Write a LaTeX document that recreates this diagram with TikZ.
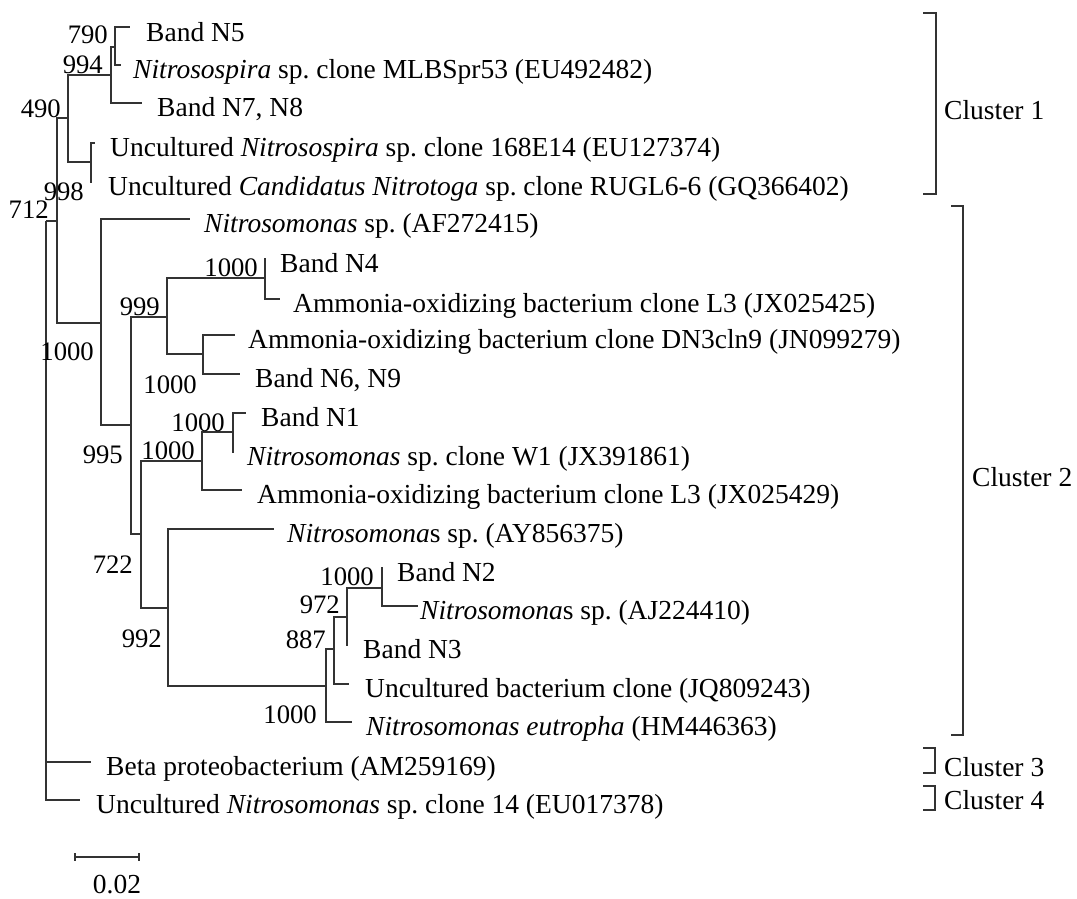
\documentclass[tikz,border=0pt]{standalone}
\usepackage{fontspec}
\setmainfont{Liberation Serif}
\frenchspacing
\begin{document}
\begin{tikzpicture}[x=1pt,y=-1pt,
  br/.style={line width=1.1pt,black!80},
  leaf/.style={anchor=base west,inner sep=0pt,font=\fontsize{27.5}{31}\selectfont},
  boot/.style={anchor=base east,inner sep=0pt,font=\fontsize{26.7}{30}\selectfont},
  clus/.style={anchor=west,inner sep=0pt,font=\fontsize{27.5}{31}\selectfont}]
\useasboundingbox (0,0) rectangle (1077,898);
% internal nodes (x of vertical line, y of attachment)
\coordinate (root) at (46,221);
\coordinate (A) at (57,221);
\coordinate (C1) at (68,118);
\coordinate (n994) at (111,75);
\coordinate (n790) at (115,47);
\coordinate (n998) at (91,162);
\coordinate (C2) at (101,323);
\coordinate (B) at (131,425);
\coordinate (n999) at (167,317);
\coordinate (nN4) at (265,278);
\coordinate (nDN) at (203,354);
\coordinate (D) at (141,534);
\coordinate (nW) at (202,461);
\coordinate (nN1) at (233,432);
\coordinate (n992) at (168,608);
\coordinate (nEu) at (326,686);
\coordinate (n887) at (334,649);
\coordinate (n972) at (347,617);
\coordinate (nN2) at (382,588);
% tips
\coordinate (tN5) at (130,27);
\coordinate (tMLB) at (121,65);
\coordinate (tN7) at (142,103);
\coordinate (t168) at (95,143);
\coordinate (tCan) at (92,182);
\coordinate (tAF) at (190,219);
\coordinate (tN4) at (266,259);
\coordinate (tL3a) at (280,299);
\coordinate (tDN3) at (235,335);
\coordinate (tN6) at (240,374);
\coordinate (tN1) at (246,413);
\coordinate (tW1) at (234,452);
\coordinate (tL3b) at (242,490);
\coordinate (tAY) at (274,529);
\coordinate (tN2) at (383,568);
\coordinate (tAJ) at (418,606);
\coordinate (tN3) at (348,645);
\coordinate (tJQ) at (349,684);
\coordinate (tEu) at (352,722);
\coordinate (tBeta) at (91,762);
\coordinate (t14) at (80,800);
% branches
\draw[br] (root) |- (A);
\draw[br] (root) |- (tBeta);
\draw[br] (root) |- (t14);
\draw[br] (A) |- (C1);
\draw[br] (A) |- (C2);
\draw[br] (C1) |- (n994);
\draw[br] (C1) |- (n998);
\draw[br] (n994) |- (n790);
\draw[br] (n994) |- (tN7);
\draw[br] (n790) |- (tN5);
\draw[br] (n790) |- (tMLB);
\draw[br] (n998) |- (t168);
\draw[br] (n998) |- (tCan);
\draw[br] (C2) |- (tAF);
\draw[br] (C2) |- (B);
\draw[br] (B) |- (n999);
\draw[br] (B) |- (D);
\draw[br] (n999) |- (nN4);
\draw[br] (n999) |- (nDN);
\draw[br] (nN4) |- (tN4);
\draw[br] (nN4) |- (tL3a);
\draw[br] (nDN) |- (tDN3);
\draw[br] (nDN) |- (tN6);
\draw[br] (D) |- (nW);
\draw[br] (D) |- (n992);
\draw[br] (nW) |- (nN1);
\draw[br] (nW) |- (tL3b);
\draw[br] (nN1) |- (tN1);
\draw[br] (nN1) |- (tW1);
\draw[br] (n992) |- (tAY);
\draw[br] (n992) |- (nEu);
\draw[br] (nEu) |- (n887);
\draw[br] (nEu) |- (tEu);
\draw[br] (n887) |- (n972);
\draw[br] (n887) |- (tJQ);
\draw[br] (n972) |- (nN2);
\draw[br] (n972) |- (tN3);
\draw[br] (nN2) |- (tN2);
\draw[br] (nN2) |- (tAJ);
% leaf labels
\node[leaf] (lN5) at ([xshift=16pt,yshift=-14pt]tN5) {Band N5};
\node[leaf] (lMLB) at ([xshift=12pt,yshift=-13pt]tMLB) {\textit{Nitrosospira} sp. clone MLBSpr53 (EU492482)};
\node[leaf] (lN7) at ([xshift=15pt,yshift=-13pt]tN7) {Band N7, N8};
\node[leaf] (l168) at ([xshift=15pt,yshift=-13pt]t168) {Uncultured \textit{Nitrosospira} sp. clone 168E14 (EU127374)};
\node[leaf] (lCan) at ([xshift=16pt,yshift=-13pt]tCan) {Uncultured \textit{Candidatus Nitrotoga} sp. clone RUGL6-6 (GQ366402)};
\node[leaf] (lAF) at ([xshift=14pt,yshift=-13pt]tAF) {\textit{Nitrosomonas} sp. (AF272415)};
\node[leaf] (lN4) at ([xshift=14pt,yshift=-13pt]tN4) {Band N4};
\node[leaf] (lL3a) at ([xshift=13pt,yshift=-13pt]tL3a) {Ammonia-oxidizing bacterium clone L3 (JX025425)};
\node[leaf] (lDN3) at ([xshift=13pt,yshift=-13pt]tDN3) {Ammonia-oxidizing bacterium clone DN3cln9 (JN099279)};
\node[leaf] (lN6) at ([xshift=15pt,yshift=-13pt]tN6) {Band N6, N9};
\node[leaf] (lN1) at ([xshift=15pt,yshift=-13pt]tN1) {Band N1};
\node[leaf] (lW1) at ([xshift=13pt,yshift=-13pt]tW1) {\textit{Nitrosomonas} sp. clone W1 (JX391861)};
\node[leaf] (lL3b) at ([xshift=15pt,yshift=-13pt]tL3b) {Ammonia-oxidizing bacterium clone L3 (JX025429)};
\node[leaf] (lAY) at ([xshift=13pt,yshift=-13pt]tAY) {\textit{Nitrosomona}s sp. (AY856375)};
\node[leaf] (lN2) at ([xshift=14pt,yshift=-13pt]tN2) {Band N2};
\node[leaf] (lAJ) at ([xshift=2pt,yshift=-13pt]tAJ) {\textit{Nitrosomona}s sp. (AJ224410)};
\node[leaf] (lN3) at ([xshift=15pt,yshift=-13pt]tN3) {Band N3};
\node[leaf] (lJQ) at ([xshift=16pt,yshift=-13pt]tJQ) {Uncultured bacterium clone (JQ809243)};
\node[leaf] (lEu) at ([xshift=14pt,yshift=-13pt]tEu) {\textit{Nitrosomonas eutropha} (HM446363)};
\node[leaf] (lBeta) at ([xshift=15pt,yshift=-13pt]tBeta) {Beta proteobacterium (AM259169)};
\node[leaf] (l14) at ([xshift=16pt,yshift=-13pt]t14) {Uncultured \textit{Nitrosomonas} sp. clone 14 (EU017378)};
% bootstrap values
\node[boot] (b790) at (108,43) {790};
\node[boot] (b994) at (103,73) {994};
\node[boot] (b490) at (61,117) {490};
\node[boot] (b998) at (84,200) {998};
\node[boot] (b712) at (49,218) {712};
\node[boot] (b1000a) at (94,360) {1000};
\node[boot] (b999) at (160,315) {999};
\node[boot] (b1000b) at (258,276) {1000};
\node[boot] (b1000c) at (197,393) {1000};
\node[boot] (b1000d) at (225,431) {1000};
\node[boot] (b1000e) at (195,459) {1000};
\node[boot] (b995) at (123,463) {995};
\node[boot] (b722) at (133,573) {722};
\node[boot] (b992) at (162,647) {992};
\node[boot] (b1000f) at (374,585) {1000};
\node[boot] (b972) at (340,613) {972};
\node[boot] (b887) at (326,648) {887};
\node[boot] (b1000g) at (317,723) {1000};
% cluster brackets
\coordinate (k1a) at (923,13);
\coordinate (k1b) at (936,13);
\coordinate (k1c) at (936,194);
\coordinate (k1d) at (923,194);
\draw[br] (k1a) -- (k1b) -- (k1c) -- (k1d);
\node[clus] (c1) at (944,110) {Cluster 1};
\coordinate (k2a) at (951,206);
\coordinate (k2b) at (963,206);
\coordinate (k2c) at (963,735);
\coordinate (k2d) at (951,735);
\draw[br] (k2a) -- (k2b) -- (k2c) -- (k2d);
\node[clus] (c2) at (972,477) {Cluster 2};
\coordinate (k3a) at (923,748);
\coordinate (k3b) at (935,748);
\coordinate (k3c) at (935,773);
\coordinate (k3d) at (923,773);
\draw[br] (k3a) -- (k3b) -- (k3c) -- (k3d);
\node[clus] (c3) at (944,767) {Cluster 3};
\coordinate (k4a) at (923,786);
\coordinate (k4b) at (935,786);
\coordinate (k4c) at (935,810);
\coordinate (k4d) at (923,810);
\draw[br] (k4a) -- (k4b) -- (k4c) -- (k4d);
\node[clus] (c4) at (944,800) {Cluster 4};
% scale bar
\coordinate (sA) at (75,857);
\coordinate (sB) at (139,857);
\draw[br] (sA) -- (sB);
\draw[br] ([yshift=4pt]sA) -- ([yshift=-4pt]sA);
\draw[br] ([yshift=4pt]sB) -- ([yshift=-4pt]sB);
\node[anchor=base,inner sep=0pt,font=\fontsize{27.5}{31}\selectfont] (sc) at (117,893) {0.02};
\end{tikzpicture}
\end{document}
